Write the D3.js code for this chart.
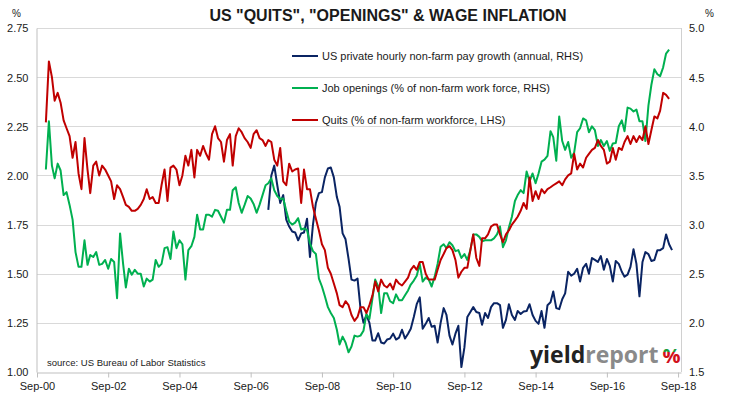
<!DOCTYPE html>
<html>
<head>
<meta charset="utf-8">
<script src="https://cdn.jsdelivr.net/npm/d3@7"></script>
<style>
  body { margin: 0; background: #fff; }
  svg text { font-family: "Liberation Sans", Arial, sans-serif; fill: #1a1a1a; }
</style>
</head>
<body>
<svg id="chart" width="731" height="398"></svg>
<script>
// monthly data
// quits & openings start Dec 2000, pay growth starts Mar 2007
const quitsStart = "2000-12-01";
const quits = [
  2.27,
  2.58, 2.50, 2.38, 2.42, 2.37, 2.28, 2.24, 2.20, 2.09, 2.17, 2.01, 1.93,
  2.19, 2.03, 1.91, 2.05, 2.07, 2.00, 2.05, 2.03, 2.00, 1.97, 1.88, 1.95,
  1.93, 1.89, 1.85, 1.84, 1.82, 1.82, 1.83, 1.85, 1.88, 1.93, 1.88, 1.89,
  1.86, 1.86, 1.95, 2.03, 1.87, 2.04, 2.05, 2.03, 1.95, 2.00, 2.10, 2.05,
  2.13, 1.99, 2.13, 2.10, 2.15, 2.11, 2.08, 2.21, 2.25, 2.19, 2.17, 2.07,
  2.18, 2.21, 2.05, 2.20, 2.24, 2.22, 2.19, 2.17, 2.14, 2.21, 2.23, 2.19,
  2.18, 2.15, 2.18, 2.17, 2.08, 2.05, 2.14, 1.97, 1.95, 2.06, 2.02, 2.03,
  2.035, 1.86, 2.03, 1.93, 1.93, 1.84, 1.78, 1.72, 1.65, 1.62, 1.53, 1.50,
  1.45, 1.40, 1.34, 1.33, 1.36, 1.34, 1.29, 1.26, 1.28, 1.33, 1.33, 1.30,
  1.34, 1.39, 1.46, 1.41, 1.47, 1.44, 1.43, 1.45, 1.42, 1.47, 1.45, 1.44,
  1.46, 1.48, 1.52, 1.54, 1.52, 1.56, 1.56, 1.50, 1.47, 1.47, 1.47, 1.52,
  1.57, 1.60, 1.63, 1.64, 1.62, 1.57, 1.48, 1.51, 1.53, 1.53, 1.62, 1.70,
  1.58, 1.54, 1.68, 1.68, 1.70, 1.74, 1.75, 1.75, 1.70, 1.66, 1.70, 1.72,
  1.75, 1.77, 1.79, 1.82, 1.86, 1.83, 1.99, 1.87, 1.92, 1.88, 1.93, 1.91,
  1.93, 1.94, 1.95, 1.96, 1.97, 1.95, 1.98, 2.00, 2.01, 2.11, 2.03, 2.06,
  2.04, 2.09, 2.11, 2.13, 2.14, 2.18, 2.15, 2.13, 2.06, 2.07, 2.14, 2.08,
  2.14, 2.13, 2.17, 2.20, 2.16, 2.20, 2.17, 2.20, 2.18, 2.25, 2.16, 2.23,
  2.30, 2.29, 2.33, 2.42, 2.41, 2.39
];
const openings = [
  3.56,
  4.05, 3.60, 3.47, 3.62, 3.55, 3.30, 3.33, 3.20, 3.05, 2.72, 2.57, 2.57,
  2.84, 2.59, 2.69, 2.67, 2.72, 2.59, 2.60, 2.64, 2.55, 2.65, 2.62, 2.25,
  2.91, 2.60, 2.36, 2.55, 2.49, 2.54, 2.50, 2.50, 2.37, 2.45, 2.42, 2.44,
  2.64, 2.57, 2.60, 2.76, 2.77, 2.65, 2.93, 2.76, 2.84, 2.80, 2.44, 2.74,
  2.78, 2.875, 3.10, 2.95, 2.95, 3.10, 3.10, 3.08, 3.15, 3.14, 3.08, 3.02,
  3.15, 3.15, 3.35, 3.38, 3.22, 3.12, 3.20, 3.29, 3.265, 3.21, 3.12, 3.20,
  3.30, 3.40, 3.42, 3.47, 3.35, 3.29, 3.26, 3.265, 3.14, 3.03, 3.00, 3.02,
  3.065, 2.95, 2.96, 2.945, 2.81, 2.73, 2.70, 2.45, 2.37, 2.27, 2.16, 2.10,
  2.05, 1.93, 1.78, 1.86, 1.80, 1.70, 1.76, 1.87, 1.86, 1.87, 1.92, 2.09,
  2.04, 2.25, 2.44, 2.37, 2.10, 2.30, 2.30, 2.22, 2.20, 2.29, 2.23, 2.23,
  2.28, 2.33, 2.39, 2.43, 2.48, 2.60, 2.42, 2.46, 2.44, 2.37, 2.47, 2.60,
  2.775, 2.80, 2.76, 2.82, 2.79, 2.73, 2.74, 2.66, 2.70, 2.64, 2.74, 2.90,
  2.90, 2.875, 2.83, 2.84, 2.84, 2.84, 2.86, 2.90, 2.98, 2.77, 2.84, 2.97,
  3.08, 3.24, 3.30, 3.35, 3.32, 3.54, 3.44, 3.52, 3.42, 3.52, 3.64, 3.66,
  3.70, 3.95, 3.89, 3.65, 4.10, 3.85, 3.76, 3.84, 3.68, 3.73, 3.94, 3.98,
  4.08, 4.06, 3.94, 4.00, 3.96, 3.80, 3.86, 3.80, 3.85, 3.75, 3.825, 3.83,
  4.00, 4.06, 3.95, 4.19, 4.18, 4.15, 4.17, 4.05, 4.05, 3.85, 4.21, 4.42,
  4.58, 4.53, 4.51, 4.60, 4.74, 4.78
];
const payStart = "2007-03-01";
const payGrowth = [
  3.15, 3.50, 3.60, 3.40, 3.22, 3.30, 3.05, 2.98, 2.93, 2.92,
  2.84, 2.91, 2.92, 3.06, 2.67, 3.00, 3.22, 3.32, 3.33, 3.48, 3.57, 3.58,
  3.48, 3.28, 3.18, 2.91, 2.85, 2.65, 2.44, 2.43, 2.45, 2.15, 2.00, 2.08,
  2.00, 1.82, 1.82, 1.895, 1.80, 1.79, 1.83, 1.84, 1.89, 1.83, 1.85, 1.93,
  1.84, 1.89, 1.94, 2.06, 2.19, 2.26, 1.94, 1.99, 2.05, 1.96, 1.97, 1.80,
  2.00, 2.15, 2.08, 1.87, 1.78, 1.89, 1.97, 1.55, 1.75, 2.06, 2.11, 2.16,
  2.11, 2.10, 1.98, 2.10, 2.05, 2.16, 2.20, 2.20, 2.18, 1.95, 2.03, 2.19,
  2.08, 2.03, 2.12, 2.09, 2.115, 2.12, 2.19, 2.08, 2.02, 1.99, 2.12, 1.95,
  2.18, 2.21, 2.32, 2.15, 2.14, 2.24, 2.30, 2.52, 2.48, 2.50, 2.55, 2.42,
  2.56, 2.60, 2.50, 2.66, 2.64, 2.62, 2.68, 2.54, 2.65, 2.58, 2.42, 2.63,
  2.60, 2.52, 2.47, 2.49, 2.57, 2.75, 2.60, 2.27, 2.62, 2.72, 2.70, 2.63,
  2.64, 2.74, 2.74, 2.76, 2.90, 2.80, 2.74
];

const leftTicks = [1.00, 1.25, 1.50, 1.75, 2.00, 2.25, 2.50, 2.75];
const rightTicks = [1.5, 2.0, 2.5, 3.0, 3.5, 4.0, 4.5, 5.0];
const xTickYears = [2000, 2002, 2004, 2006, 2008, 2010, 2012, 2014, 2016, 2018];

const legendNames = [
  "US private hourly non-farm pay growth (annual, RHS)",
  "Job openings (% of non-farm work force, RHS)",
  "Quits (% of non-farm workforce, LHS)"
];
const colors = ["#0a2463", "#00b050", "#c00000"];

const parse = d3.timeParse("%Y-%m-%d");
function monthly(start, vals) {
  const s = parse(start);
  return vals.map((v, i) => ({ date: d3.timeMonth.offset(s, i), value: v }));
}

const margin = { left: 37, right: 50, top: 28, bottom: 26 };
const W = 731, H = 398;

const svg = d3.select("#chart");
svg.append("rect").attr("width", W).attr("height", H).attr("fill", "#fff");

const x = d3.scaleTime()
  .domain([new Date(2000, 8, 1), new Date(2018, 9, 1)])
  .range([margin.left, W - margin.right]);
const yL = d3.scaleLinear().domain([1, 2.75]).range([H - margin.bottom, margin.top]);
const yR = d3.scaleLinear().domain([1.5, 5.0]).range([H - margin.bottom, margin.top]);

// grid
svg.append("g")
  .selectAll("line")
  .data(leftTicks.slice(1))
  .enter().append("line")
    .attr("x1", margin.left).attr("x2", W - margin.right)
    .attr("y1", d => Math.round(yL(d)) + 0.5).attr("y2", d => Math.round(yL(d)) + 0.5)
    .attr("stroke", "#d9d9d9");

// frame right side
svg.append("line")
  .attr("x1", W - margin.right + 0.5).attr("x2", W - margin.right + 0.5)
  .attr("y1", margin.top).attr("y2", H - margin.bottom)
  .attr("stroke", "#d0d0d0");

// left axis
const gL = svg.append("g")
  .attr("transform", "translate(" + (margin.left - 0.5) + ",0)")
  .call(d3.axisLeft(yL).tickValues(leftTicks).tickFormat(d3.format(".2f")).tickSize(0).tickPadding(8));
gL.select(".domain").attr("stroke", "#bfbfbf");
gL.selectAll("text").attr("font-size", 11).attr("dy", "0.35em");

// right axis
const gR = svg.append("g")
  .attr("transform", "translate(" + (W - margin.right) + ",0)")
  .call(d3.axisRight(yR).tickValues(rightTicks).tickFormat(d3.format(".1f")).tickSize(0).tickPadding(8));
gR.select(".domain").remove();
gR.selectAll("text").attr("font-size", 11).attr("dy", "0.35em");

// bottom axis
const xTicks = xTickYears.map(y => new Date(y, 8, 1));
const gX = svg.append("g")
  .attr("transform", "translate(0," + (H - margin.bottom + 0.5) + ")")
  .call(d3.axisBottom(x).tickValues(xTicks).tickFormat(d3.timeFormat("%b-%y")).tickSizeInner(5).tickSizeOuter(0).tickPadding(5));
gX.select(".domain").attr("stroke", "#bfbfbf");
gX.selectAll(".tick line").attr("stroke", "#bfbfbf");
gX.selectAll("text").attr("font-size", 11);

// series
const line = (scale) => d3.line().x(d => x(d.date)).y(d => scale(d.value));
const series = [
  { data: monthly(payStart, payGrowth), scale: yR, color: colors[0] },
  { data: monthly(quitsStart, openings), scale: yR, color: colors[1] },
  { data: monthly(quitsStart, quits), scale: yL, color: colors[2] }
];
svg.append("g").selectAll("path")
  .data(series)
  .enter().append("path")
    .attr("d", s => line(s.scale)(s.data))
    .attr("fill", "none")
    .attr("stroke", s => s.color)
    .attr("stroke-width", 2)
    .attr("stroke-linejoin", "round");

// legend
const leg = svg.append("g").attr("transform", "translate(292,56)");
legendNames.forEach((name, i) => {
  const g = leg.append("g").attr("transform", "translate(0," + (i * 32) + ")");
  g.append("line").attr("x1", 0).attr("x2", 26).attr("stroke", colors[i]).attr("stroke-width", 2);
  g.append("text").attr("x", 30).attr("y", 4).attr("font-size", 11).text(name);
});

// title and unit labels
svg.append("text").attr("x", 388).attr("y", 21).attr("text-anchor", "middle")
  .attr("font-size", 16).attr("font-weight", "bold")
  .text('US "QUITS", "OPENINGS" & WAGE INFLATION');
svg.append("text").attr("x", 12).attr("y", 17).attr("font-size", 10).text("%");
svg.append("text").attr("x", 705).attr("y", 17).attr("font-size", 10).text("%");

// source
svg.append("text").attr("x", 47).attr("y", 366).attr("font-size", 9.5)
  .text("source: US Bureau of Labor Statistics");

// logo
const defs = svg.append("defs");
const grad = defs.append("linearGradient").attr("id", "pct").attr("x1", 0).attr("x2", 0).attr("y1", 0).attr("y2", 1);
grad.append("stop").attr("offset", "0.45").attr("stop-color", "#1e9a3c");
grad.append("stop").attr("offset", "0.45").attr("stop-color", "#d0101b");
const logo = svg.append("text").attr("x", 530).attr("y", 363)
  .attr("font-size", 23).attr("font-weight", "bold")
  .style("font-family", "'Open Sans', 'DejaVu Sans', sans-serif");
logo.append("tspan").style("fill", "#222").text("yield");
logo.append("tspan").style("fill", "#8a8a8a").text("report");
logo.append("tspan").attr("dx", 4).attr("font-size", 20).style("fill", "url(#pct)").text("%");
</script>
</body>
</html>
